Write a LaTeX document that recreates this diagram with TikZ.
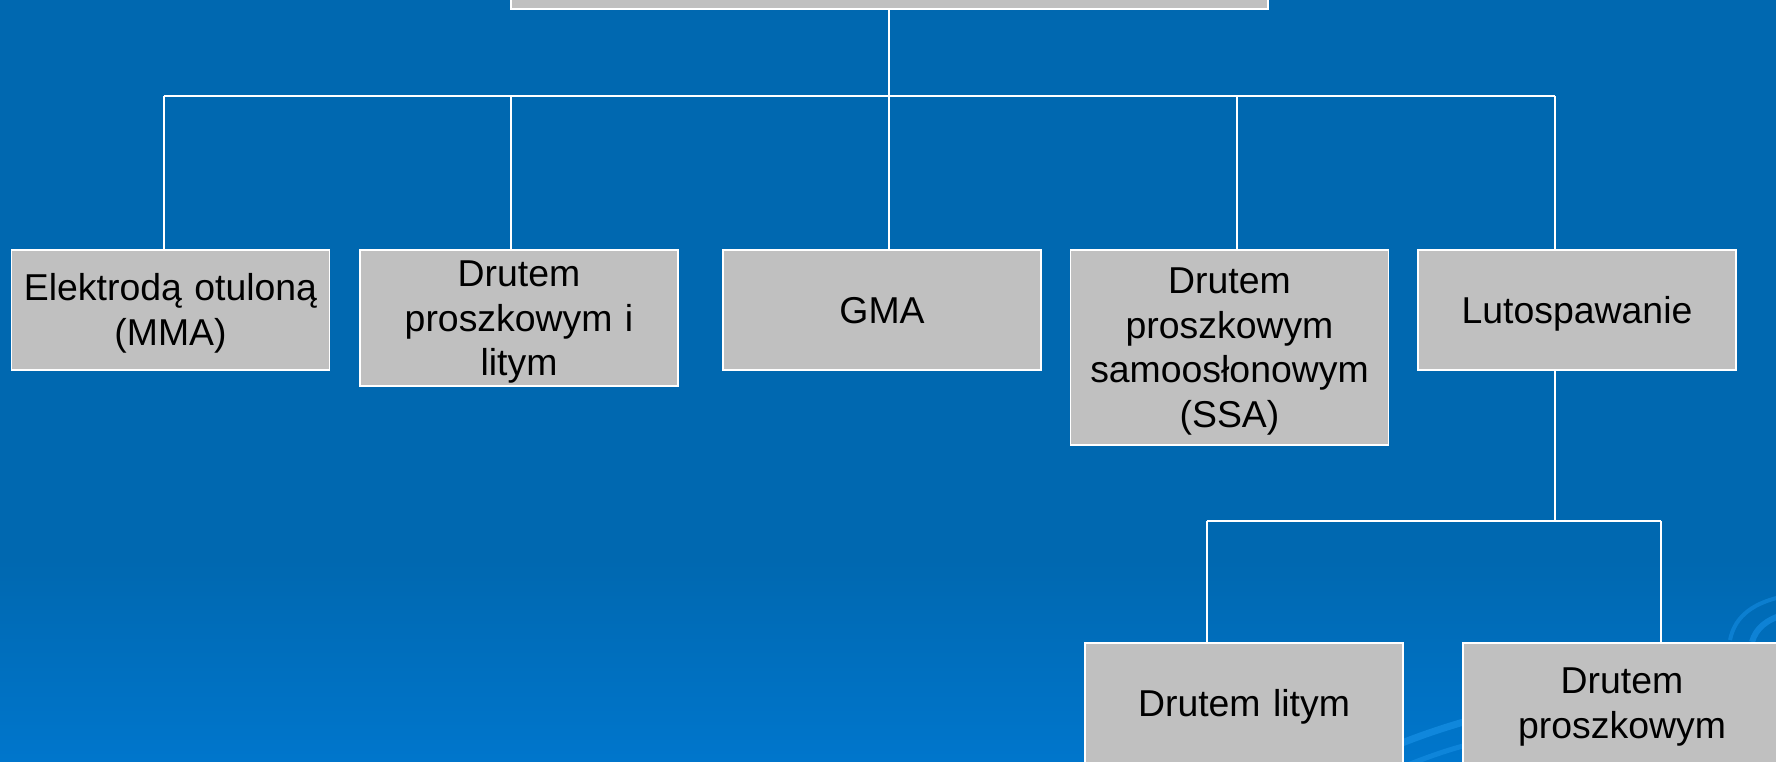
\documentclass[tikz,border=0pt]{standalone}
\usepackage{fontspec}
\setmainfont{Liberation Sans}
\usetikzlibrary{calc}
\definecolor{bgtop}{RGB}{0,104,176}
\definecolor{bgbot}{RGB}{0,118,204}
\definecolor{boxgray}{RGB}{192,192,192}
\definecolor{swirl}{RGB}{20,140,225}
% each line gets cap height and no depth, so the cap block is centred in its box
\newcommand\capline[1]{\raisebox{0pt}[26.8pt][0pt]{#1}}
\tikzset{
  orgbox/.style={draw=white, line width=1.6pt, fill=boxgray, anchor=north,
    minimum width=318pt, text width=300pt, align=center, inner sep=0pt,
    font=\fontsize{37.4}{44.5}\selectfont, text=black},
  wire/.style={draw=white, line width=1.6pt}
}
\begin{document}
\begin{tikzpicture}[x=1pt,y=-1pt]
\useasboundingbox (0,0) rectangle (1776,761);
% background
\fill[bgtop] (0,0) rectangle (1776,560);
\shade[top color=bgtop, bottom color=bgbot] (0,559) rectangle (1776,761);
% faint swirls
\begin{scope}
\clip (0,0) rectangle (1776,761);
\draw[swirl, line width=7pt, opacity=0.8] (1380,752) .. controls (1420,735) and (1450,725) .. (1500,712);
\draw[swirl, line width=5pt, opacity=0.7] (1395,770) .. controls (1420,760) and (1450,748) .. (1480,742);
\draw[swirl, line width=4pt, opacity=0.6] (1730,640) .. controls (1735,615) and (1755,602) .. (1785,596);
\draw[swirl, line width=6pt, opacity=0.7] (1752,642) .. controls (1756,628) and (1766,620) .. (1785,614);
\end{scope}
% top box
\node[orgbox, minimum width=757pt, minimum height=130pt] (top) at (889.5,-122) {};
% level 1
\node[orgbox, minimum height=120pt] (b1) at (170.5,249) {\capline{Elektrodą otuloną}\\\capline{(MMA)}};
\node[orgbox, minimum height=136pt] (b2) at (519,249) {\capline{Drutem}\\\capline{proszkowym i}\\\capline{litym}};
\node[orgbox, minimum height=120pt] (b3) at (882,249) {\capline{GMA}};
\node[orgbox, minimum height=195pt] (b4) at (1229.5,249) {\capline{Drutem}\\\capline{proszkowym}\\\capline{samoosłonowym}\\\capline{(SSA)}};
\node[orgbox, minimum height=120pt] (b5) at (1577,249) {\capline{Lutospawanie}};
% level 2
\node[orgbox, minimum height=120pt] (b6) at (1244,642) {\capline{Drutem litym}};
\node[orgbox, minimum height=120pt] (b7) at (1622,642) {\capline{Drutem}\\\capline{proszkowym}};
% connectors level 1
\coordinate (j0) at (889,96);
\coordinate (d1) at (164,96);
\coordinate (d2) at (511,96);
\coordinate (d4) at (1237,96);
\coordinate (d5) at (1555,96);
\draw[wire] (top.south -| j0) -- (j0);
\draw[wire] (d1) -- (d5);
\draw[wire] (d1) -- (b1.north -| d1);
\draw[wire] (d2) -- (b2.north -| d2);
\draw[wire] (j0) -- (b3.north -| j0);
\draw[wire] (d4) -- (b4.north -| d4);
\draw[wire] (d5) -- (b5.north -| d5);
% connectors level 2
\coordinate (k0) at (1555,521);
\coordinate (e6) at (1207,521);
\coordinate (e7) at (1661,521);
\draw[wire] (b5.south -| k0) -- (k0);
\draw[wire] (e6) -- (e7);
\draw[wire] (e6) -- (b6.north -| e6);
\draw[wire] (e7) -- (b7.north -| e7);
\end{tikzpicture}
\end{document}
